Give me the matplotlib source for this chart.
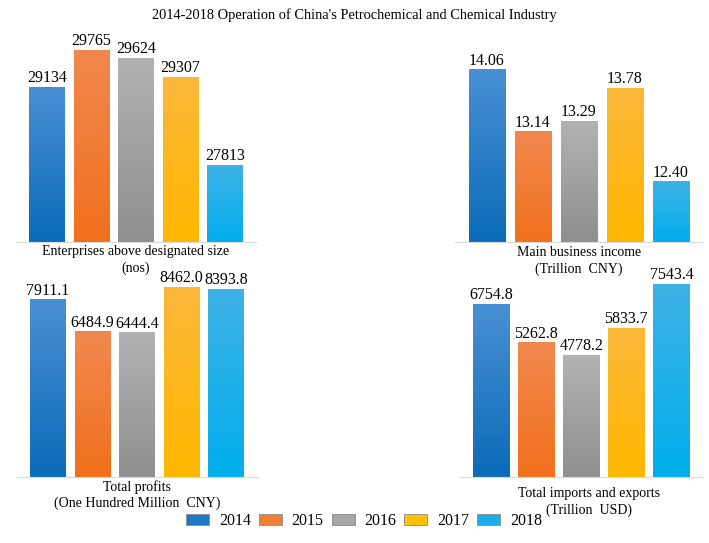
import matplotlib
matplotlib.use("Agg")
import matplotlib.pyplot as plt
from matplotlib.colors import LinearSegmentedColormap
from matplotlib.patches import Patch
import numpy as np

plt.rcParams['font.family'] = ['Liberation Serif', 'DejaVu Serif']

years = ['2014', '2015', '2016', '2017', '2018']
enterprises = [29134, 29765, 29624, 29307, 27813]
income = [14.06, 13.14, 13.29, 13.78, 12.40]
profits = [7911.1, 6484.9, 6444.4, 8462.0, 8393.8]
trade = [6754.8, 5262.8, 4778.2, 5833.7, 7543.4]

enterprises_lbl = ['29134', '29765', '29624', '29307', '27813']
income_lbl = ['14.06', '13.14', '13.29', '13.78', '12.40']
profits_lbl = ['7911.1', '6484.9', '6444.4', '8462.0', '8393.8']
trade_lbl = ['6754.8', '5262.8', '4778.2', '5833.7', '7543.4']

# gradient colours, top -> bottom
top_cols = ['#4a8fd3', '#f2884f', '#b2b2b2', '#fbb73a', '#3fb2e6']
bot_cols = ['#0a6bb9', '#f0701c', '#8f8f8f', '#ffb800', '#00aeec']
leg_cols = ['#1f78c4', '#f27f36', '#a6a6a6', '#ffc000', '#1aaee6']

W, H = 709, 543
fig = plt.figure(figsize=(W / 100, H / 100), dpi=100)


def px_axes(first_center, step, baseline, lo, hi, scale):
    # place axes so bars land where they are in the picture
    left = first_center - 0.7 * step
    width = 5.4 * step
    height = (hi - lo) * scale
    return fig.add_axes([left / W, (H - baseline) / H, width / W, height / H])


def grad_bar(ax, rect, c_top, c_bot):
    x0, y0 = rect.get_x(), rect.get_y()
    w, h = rect.get_width(), rect.get_height()
    cmap = LinearSegmentedColormap.from_list('g', [c_bot, c_top])
    g = np.linspace(0, 1, 256).reshape(-1, 1)
    im = ax.imshow(g, cmap=cmap, extent=(x0, x0 + w, y0, y0 + h),
                   origin='lower', aspect='auto', zorder=2)
    im.set_clip_path(rect)
    rect.set_facecolor('none')
    rect.set_edgecolor('none')


def panel(ax, vals, lbls, lo, hi, line1, line2, off1, off2, dx=0):
    x = np.arange(len(vals))
    bars = ax.bar(x, np.array(vals) - lo, bottom=lo, width=0.8)
    for b, ct, cb in zip(bars, top_cols, bot_cols):
        grad_bar(ax, b, ct, cb)
    for xi, v, t in zip(x, vals, lbls):
        ax.annotate(t, (xi, v), xytext=(0, 0.5), textcoords='offset points',
                    ha='center', va='bottom', fontsize=11.5)
    ax.set_xlim(-0.7, 4.7)
    ax.set_ylim(lo, hi)
    for s in ['top', 'left', 'right']:
        ax.spines[s].set_visible(False)
    ax.spines['bottom'].set_color('#d9d9d9')
    ax.set_xticks([])
    ax.set_yticks([])
    ax.patch.set_alpha(0)
    ax.annotate(line1, (0.5, 0), xycoords='axes fraction', xytext=(dx, -off1),
                textcoords='offset pixels', ha='center', va='center', fontsize=10)
    ax.annotate(line2, (0.5, 0), xycoords='axes fraction', xytext=(dx, -off2),
                textcoords='offset pixels', ha='center', va='center', fontsize=10)


ax1 = px_axes(47, 44.5, 242, 26500, 30000, 0.0589)
panel(ax1, enterprises, enterprises_lbl, 26500, 30000,
      'Enterprises above designated size', '(nos)', 10, 26)

ax2 = px_axes(487, 46, 242, 11.5, 14.5, 67.5)
panel(ax2, income, income_lbl, 11.5, 14.5,
      'Main business income', '(Trillion  CNY)', 10, 27)

ax3 = px_axes(48, 44.5, 477, 0, 9000, 0.02245)
panel(ax3, profits, profits_lbl, 0, 9000,
      'Total profits', '(One Hundred Million  CNY)', 10, 26)

ax4 = px_axes(491, 45.1, 477, 0, 8000, 0.02559)
panel(ax4, trade, trade_lbl, 0, 8000,
      'Total imports and exports', '(Trillion  USD)', 16, 33, dx=8)

fig.text(0.5, 1 - 15 / H, "2014-2018 Operation of China's Petrochemical and Chemical Industry",
         ha='center', va='center', fontsize=10.4)

handles = [Patch(facecolor=c, edgecolor='#8c8c8c', linewidth=0.6) for c in leg_cols]
fig.legend(handles, years, loc='center', bbox_to_anchor=(364 / W, 1 - 521 / H),
           ncol=5, frameon=False, fontsize=11.5, handlelength=1.45, handleheight=0.75,
           handletextpad=0.6, columnspacing=0.5, borderpad=0)

fig.savefig('out.png', dpi=100)
